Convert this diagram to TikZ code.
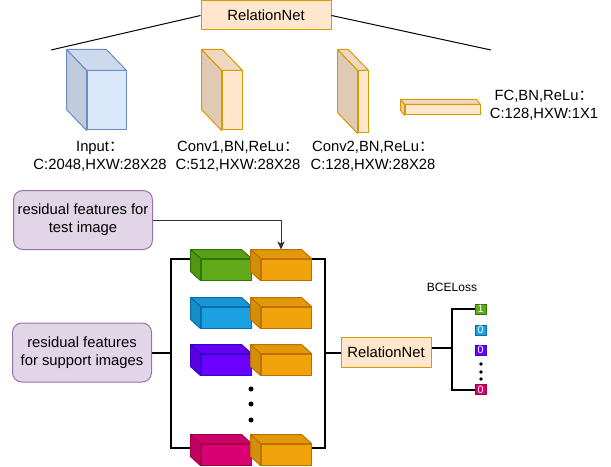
\documentclass[tikz,border=0pt]{standalone}
\usepackage{fontspec}
\setmainfont{Liberation Sans}
\newfontfamily\cjk{Noto Sans CJK SC}
\usetikzlibrary{arrows.meta}

\definecolor{inblue}{HTML}{DAE8FC}
\definecolor{inline}{HTML}{6C8EBF}
\definecolor{convfill}{HTML}{FFE6CC}
\definecolor{convline}{HTML}{D79B00}
\definecolor{featfill}{HTML}{E1D5E7}
\definecolor{featline}{HTML}{9673A6}
\definecolor{grn}{HTML}{60A917}
\definecolor{grnline}{HTML}{2D7600}
\definecolor{blu}{HTML}{1BA1E2}
\definecolor{bluline}{HTML}{006EAF}
\definecolor{pur}{HTML}{6A00FF}
\definecolor{purline}{HTML}{3700CC}
\definecolor{mag}{HTML}{D80073}
\definecolor{magline}{HTML}{A50040}
\definecolor{org}{HTML}{F0A30A}
\definecolor{orgline}{HTML}{BD7000}

\pgfdeclarelayer{bg}
\pgfsetlayers{bg,main}

% top and side faces behind a front face node
\newcommand\cubeback[4]{%
  \draw[draw=#3, fill=#2!94!black, line width=0.75pt, line join=round]
    (#1.north west) -- ([shift={#4}]#1.north west) -- ([shift={#4}]#1.north east) -- (#1.north east) -- cycle;
  \draw[draw=#3, fill=#2!88!black, line width=0.75pt, line join=round]
    (#1.north west) -- ([shift={#4}]#1.north west) -- ([shift={#4}]#1.south west) -- (#1.south west) -- cycle;
}

\begin{document}
\begin{tikzpicture}[
  x=0.75pt, y=-0.75pt,
  font=\fontsize{11.1}{13.5}\selectfont,
  net/.style={draw=convline, fill=convfill, line width=0.75pt, inner sep=0pt, minimum height=29*0.75pt},
  feat/.style={draw=featline, fill=featfill, line width=0.75pt, rounded corners=7pt, align=center,
    inner sep=0pt, minimum width=139*0.75pt, minimum height=59*0.75pt},
  face/.style 2 args={draw=#2, fill=#1, line width=0.75pt, inner sep=0pt},
  blk/.style 2 args={face={#1}{#2}, minimum width=50*0.75pt, minimum height=21*0.75pt},
  tag/.style 2 args={draw=#2, fill=#1, text=white, font=\fontsize{8}{8}\selectfont, inner sep=0pt,
    minimum width=11*0.75pt, minimum height=10*0.75pt},
  lbl/.style={align=center},
  wire/.style={line width=1.5pt},
  thin/.style={line width=0.75pt},
  flow/.style={-{Stealth[length=6pt, width=5.5pt, inset=1.5pt]}, line width=0.75pt, draw=black!80}
]
\useasboundingbox (0,0) rectangle (611,467);

% network overview
\node[net, minimum width=130*0.75pt] (rn1) at (266,15.5) {RelationNet};
\coordinate (tl) at (51,50);
\coordinate (tr) at (491,50);
\draw[thin] (rn1.west) -- (tl);
\draw[thin] (rn1.east) -- (tr);

\node[face={inblue}{inline}, minimum width=39*0.75pt, minimum height=59*0.75pt] (inp) at (106.5,100.5) {};
\cubeback{inp}{inblue}{inline}{(-20,-21)}
\node[face={convfill}{convline}, minimum width=20*0.75pt, minimum height=59*0.75pt] (cv1) at (232,100.5) {};
\cubeback{cv1}{convfill}{convline}{(-20,-21)}
\node[face={convfill}{convline}, minimum width=10*0.75pt, minimum height=62*0.75pt] (cv2) at (363,102) {};
\cubeback{cv2}{convfill}{convline}{(-20,-21)}
\node[face={convfill}{convline}, minimum width=75*0.75pt, minimum height=10*0.75pt] (fc) at (442.5,110) {};
\cubeback{fc}{convfill}{convline}{(-4,-5)}

\node[lbl] (inplbl) at (100,156) {Input{\cjk ：}\\C:2048,HXW:28X28};
\node[lbl] (cv1lbl) at (238,156) {Conv1,BN,ReLu{\cjk ：}\\C:512,HXW:28X28};
\node[lbl] (cv2lbl) at (373,156) {Conv2,BN,ReLu{\cjk ：}\\C:128,HXW:28X28};
\node[lbl] (fclbl) at (544,105.5) {FC,BN,ReLu{\cjk ：}\\C:128,HXW:1X1};

% pairing of features
\node[feat] (tst) at (83,220) {residual features for\\test image};
\node[feat] (sup) at (82,352.5) {residual features\\for support images};

\node[blk={grn}{grnline}] (c1) at (226,269.5) {};
\cubeback{c1}{grn}{grnline}{(-10,-9)}
\node[blk={org}{orgline}] (q1) at (286,269.5) {};
\cubeback{q1}{org}{orgline}{(-10,-9)}
\node[blk={blu}{bluline}] (c2) at (226,317.5) {};
\cubeback{c2}{blu}{bluline}{(-10,-9)}
\node[blk={org}{orgline}] (q2) at (286,317.5) {};
\cubeback{q2}{org}{orgline}{(-10,-9)}
\node[blk={pur}{purline}] (c3) at (226,364.5) {};
\cubeback{c3}{pur}{purline}{(-10,-9)}
\node[blk={org}{orgline}] (q3) at (286,364.5) {};
\cubeback{q3}{org}{orgline}{(-10,-9)}
\node[blk={mag}{magline}] (c4) at (226,454.5) {};
\cubeback{c4}{mag}{magline}{(-10,-9)}
\node[blk={org}{orgline}] (q4) at (286,454.5) {};
\cubeback{q4}{org}{orgline}{(-10,-9)}
\foreach \y in {389,404,420}
  \fill (251,\y) circle (1.9pt);

\node[net, minimum width=90*0.75pt, minimum height=30*0.75pt] (rn2) at (386,352) {RelationNet};

\node[font=\fontsize{9}{10}\selectfont] (bce) at (452,287) {BCELoss};
\node[tag={grn}{grnline}] (l1) at (480.5,309) {1};
\node[tag={blu}{bluline}] (l2) at (480.5,330) {0};
\node[tag={pur}{purline}] (l3) at (480.5,350) {0};
\node[tag={mag}{magline}] (l4) at (480.5,389.5) {0};
\foreach \y in {364,372,379}
  \fill (481,\y) circle (1.4pt);

\coordinate (lbrk) at (171,352.5);
\coordinate (rbrk) at (325,352.5);
\coordinate (jn) at (452,348);
\coordinate (q1top) at ([shift={(-5,-9)}]q1.north);

\begin{pgfonlayer}{bg}
\draw[wire] (c1.north west) -| (lbrk) |- ([yshift=-3pt]c4.north west);
\draw[wire] (sup.east) -- (sup.east -| lbrk);
\draw[wire] (q1.north east) -| (rbrk) |- ([yshift=-3pt]q4.north east);
\draw[wire] (rbrk) -- (rbrk -| rn2.west);
\draw[wire] (rn2.east |- jn) -- (jn);
\draw[wire] (l1.west) -| (jn) |- (l4.west);
\end{pgfonlayer}
\draw[flow] (tst.east) -| (q1top);
\end{tikzpicture}
\end{document}
